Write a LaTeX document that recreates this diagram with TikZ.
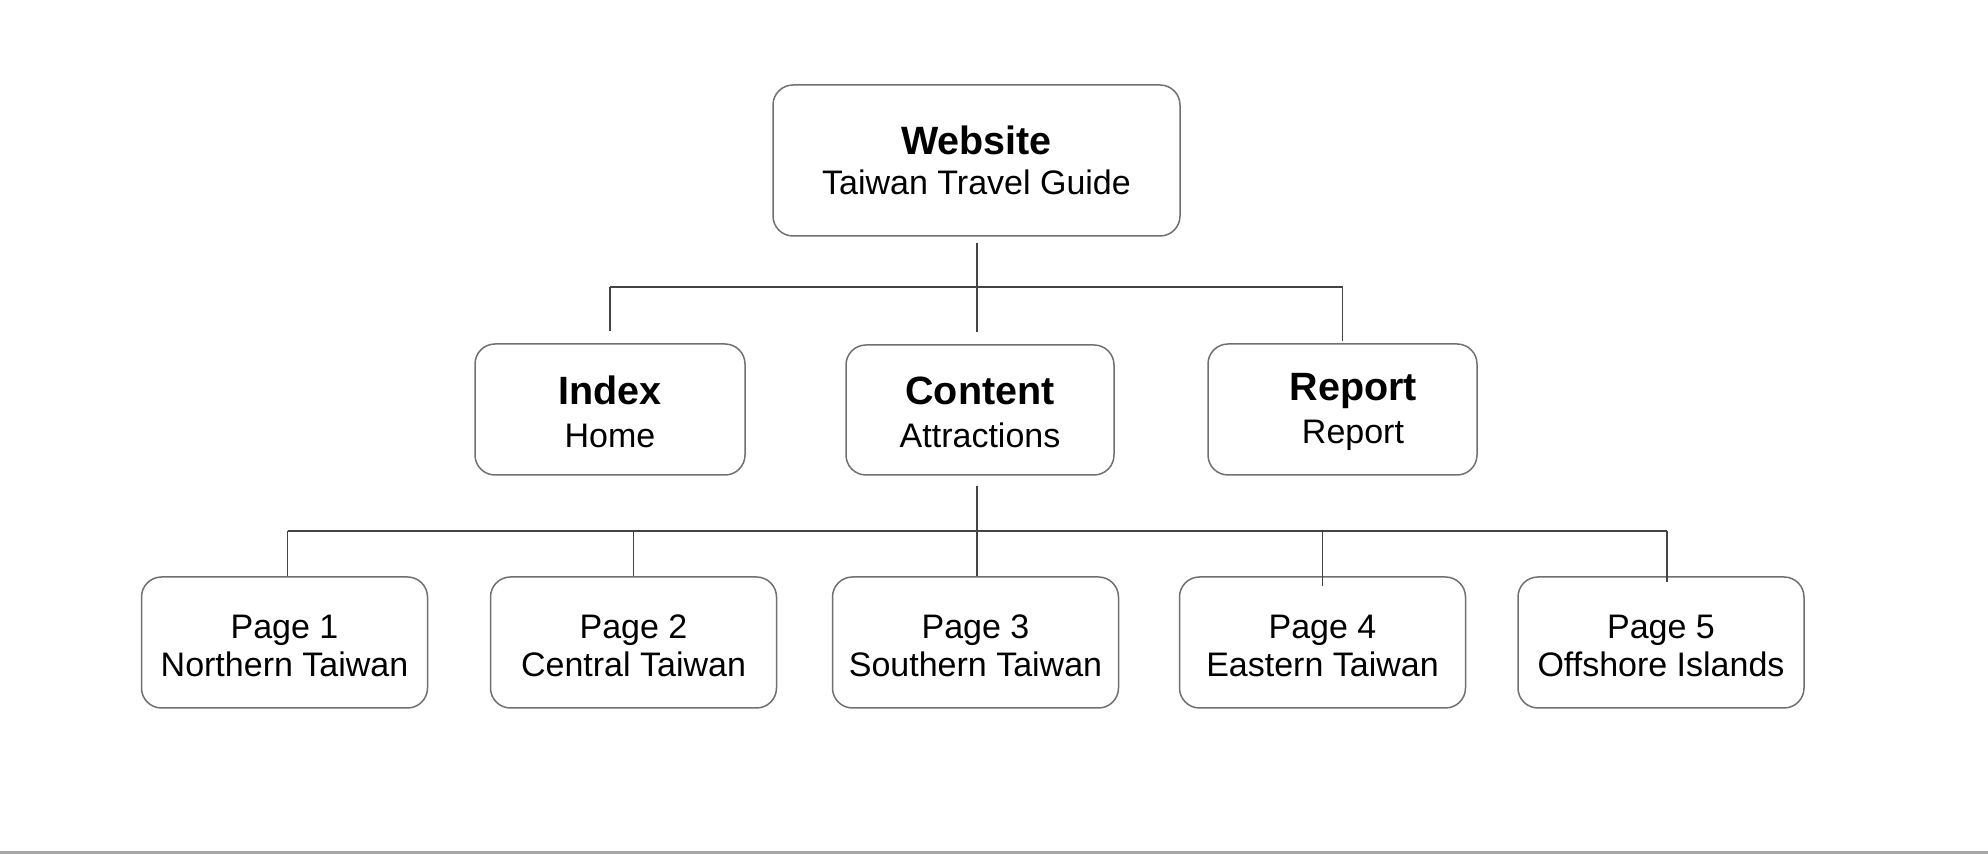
\documentclass[tikz,border=0pt]{standalone}
\usepackage{fontspec}
\setmainfont{Liberation Sans}
\definecolor{boxline}{HTML}{707070}
\definecolor{linkline}{HTML}{444444}
\definecolor{rule}{HTML}{A8A8A8}
% bold heading line of a box; the strut lowers the text block a little
\newcommand\boxtitle[1]{{\fontsize{19.75pt}{21.5pt}\selectfont\bfseries\rule{0pt}{16.4pt}#1}}
\newcommand\sitetitle[1]{{\fontsize{19.75pt}{20.2pt}\selectfont\bfseries #1}}
\newcommand\pagestrut{\rule{0pt}{14.7pt}}
\begin{document}
\begin{tikzpicture}[x=0.5pt,y=-0.5pt,
  box/.style={draw=boxline, line width=0.75pt, rounded corners=10pt, fill=white,
    align=center, inner sep=0pt},
  titlebox/.style={box, font=\fontsize{17pt}{21.5pt}\selectfont},
  sitebox/.style={box, font=\fontsize{17pt}{20.2pt}\selectfont},
  pagebox/.style={box, font=\fontsize{17pt}{19pt}\selectfont,
    minimum width=143pt, minimum height=65.5pt},
  link/.style={draw=linkline, line width=0.65pt}]
\useasboundingbox (0,0) rectangle (1988,854);

% top level
\node[sitebox, minimum width=203.5pt, minimum height=75.5pt] (site) at (976.5,160.5)
  {\sitetitle{Website}\\Taiwan Travel Guide};

% second level
\node[titlebox, minimum width=135pt, minimum height=65.5pt] (index) at (610,409.5)
  {\boxtitle{Index}\\Home};
\node[titlebox, minimum width=134pt, minimum height=65pt] (content) at (980,410)
  {\boxtitle{Content}\\Attractions};
\node[titlebox, minimum width=134.5pt, minimum height=65.5pt] (report) at (1342.5,409.5)
  {\hspace{11pt}\boxtitle{Report}\\\hspace{10.5pt}Report};

% pages
\node[pagebox] (p1) at (284.5,642.5) {\pagestrut Page 1\\Northern Taiwan};
\node[pagebox] (p2) at (633.5,642.5) {\pagestrut Page 2\\Central Taiwan};
\node[pagebox] (p3) at (975.5,642.5) {\pagestrut Page 3\\Southern Taiwan};
\node[pagebox] (p4) at (1322.5,642.5) {\pagestrut Page 4\\Eastern Taiwan};
\node[pagebox] (p5) at (1661,642.5) {\pagestrut Page 5\\Offshore Islands};

% junctions of the two buses
\coordinate (busA) at (977,287);
\coordinate (busB) at (977,531);

% site -> second level
\draw[link] ([yshift=-3pt]busA |- site.south) -- ([yshift=6pt]busA |- content.north);
\draw[link] (index.north |- busA) -- (report.north |- busA);
\draw[link] (index.north |- busA) -- ([yshift=6pt]index.north);
\draw[link] (report.north |- busA) -- ([yshift=1pt]report.north);

% content -> pages
\draw[link] ([yshift=-5pt]busB |- content.south) -- (busB |- p3.north);
\draw[link] ([xshift=1.5pt]p1.north |- busB) -- ([xshift=3pt]p5.north |- busB);
\draw[link] ([xshift=1.5pt]p1.north |- busB) -- ([xshift=1.5pt]p1.north);
\draw[link] (p2.north |- busB) -- (p2.north);
\draw[link] (p4.north |- busB) -- ([yshift=-5pt]p4.north);
\draw[link] ([xshift=3pt]p5.north |- busB) -- ([xshift=3pt,yshift=-3pt]p5.north);

% bottom rule
\fill[rule] (0,851.5) rectangle (1988,854);
\end{tikzpicture}
\end{document}
